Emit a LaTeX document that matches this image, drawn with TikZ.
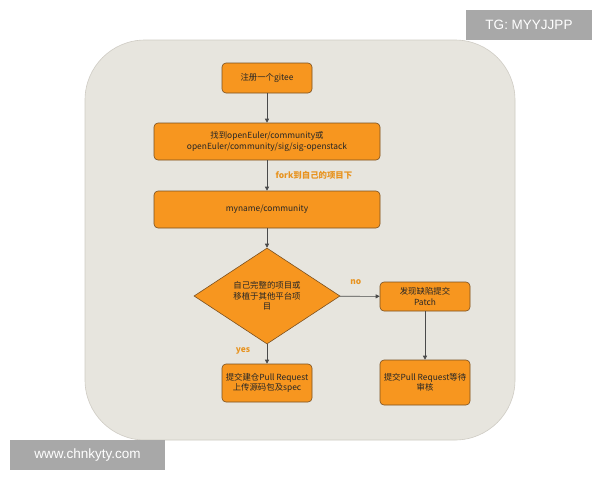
\documentclass[tikz,border=0pt]{standalone}
\usepackage{fontspec}
\setmainfont{Noto Sans CJK SC}
\newfontfamily\latinsans{Liberation Sans}
\usetikzlibrary{shapes.geometric,arrows.meta}
\definecolor{bgpanel}{HTML}{E7E5DE}
\definecolor{panelborder}{HTML}{CFCCC4}
\definecolor{boxfill}{HTML}{F7961F}
\definecolor{boxborder}{HTML}{7A5020}
\definecolor{labelorange}{HTML}{E8931F}
\definecolor{linegray}{HTML}{4A4A4A}
\definecolor{tagbg}{HTML}{A8A8A8}
\begin{document}
\begin{tikzpicture}[x=1pt,y=-1pt,
  flowbox/.style={draw=boxborder,line width=0.6pt,fill=boxfill,rounded corners=4pt,
    align=center,font=\fontsize{8.4}{10.5}\selectfont,text=black!85,inner sep=0pt},
  decision/.style={diamond,draw=boxborder,line width=0.6pt,fill=boxfill,
    align=center,font=\fontsize{8.4}{10.5}\selectfont,text=black!85,inner sep=0pt,
    minimum width=146pt,minimum height=74pt},
  flow/.style={draw=linegray,line width=0.6pt,-{Triangle[length=4pt,width=4pt]}},
  edgelabel/.style={font=\bfseries\fontsize{8.4}{10}\selectfont,text=labelorange},
  tag/.style={fill=tagbg,text=white,font=\latinsans\fontsize{13.5}{15}\selectfont,inner sep=0pt}]
\useasboundingbox (0,0) rectangle (600,480);
\fill[white] (0,0) rectangle (600,480);
\draw[draw=panelborder,fill=bgpanel,line width=0.6pt,rounded corners=60pt] (85,40) rectangle (515,440);
\node[tag,minimum width=126pt,minimum height=30pt] (tg) at (529,25) {TG: MYYJJPP};
\node[tag,minimum width=155pt,minimum height=30pt] (www) at (87.5,455) {www.chnkyty.com};
\node[flowbox,minimum width=90pt,minimum height=30pt] (gitee) at (267,78) {注册一个gitee};
\node[flowbox,minimum width=226pt,minimum height=37pt] (find) at (267,141.5) {找到openEuler/community或\\openEuler/community/sig/sig-openstack};
\node[flowbox,minimum width=226pt,minimum height=37pt] (myname) at (267,209.5) {myname/community};
\node[decision] (dec) at (267,296) {自己完整的项目或\\移植于其他平台项\\目};
\node[flowbox,minimum width=90pt,minimum height=29pt] (patch) at (425,296.5) {发现缺陷提交\\Patch};
\node[flowbox,minimum width=90pt,minimum height=38pt] (repo) at (267,383) {提交建仓Pull Request\\上传源码包及spec};
\node[flowbox,minimum width=90pt,minimum height=45pt] (wait) at (425,382.5) {提交Pull Request等待\\审核};
\draw[flow] (gitee) -- (find);
\draw[flow] (find) -- node[edgelabel,anchor=west,xshift=5pt] (forklbl) {fork到自己的项目下} (myname);
\draw[flow] (myname) -- (dec);
\draw[flow] (dec) -- node[edgelabel,pos=0.4,yshift=14pt] (nolbl) {no} (patch);
\draw[flow] (dec) -- node[edgelabel,pos=0.32,xshift=-24pt] (yeslbl) {yes} (repo);
\draw[flow] (patch) -- (wait);
\end{tikzpicture}
\end{document}
